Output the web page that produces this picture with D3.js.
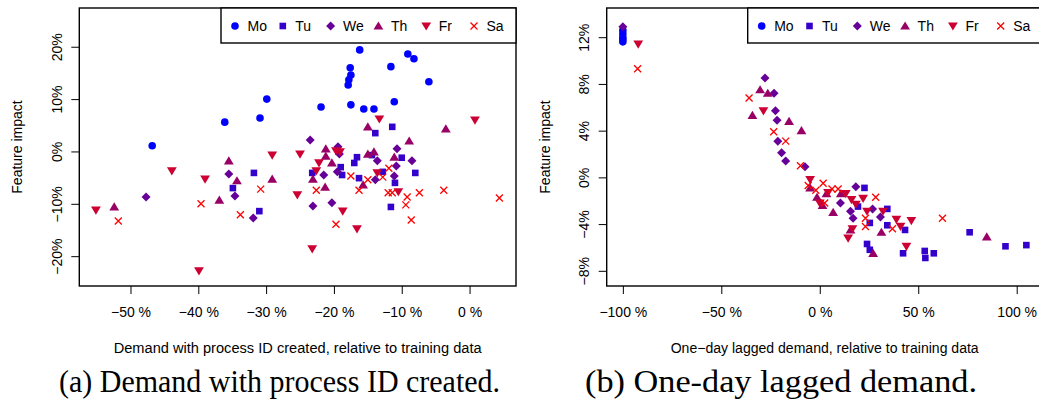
<!DOCTYPE html>
<html>
<head>
<meta charset="utf-8">
<script src="https://cdn.jsdelivr.net/npm/d3@7"></script>
<style>
  body { margin: 0; background: #fff; }
  svg { display: block; }
</style>
</head>
<body>
<svg id="chart"></svg>
<script>
var days = ["Mo", "Tu", "We", "Th", "Fr", "Sa"];
var dayColors = ["#0000ff", "#3300cc", "#660099", "#990066", "#cc0033", "#ff0000"];
var dayShapes = ["circle", "square", "diamond", "up", "down", "cross"];

// panel (a): [demand with process ID created, relative %, feature impact %]
var createdMo = [[-46.8,1.1],[-36.1,5.6],[-30.9,6.4],[-29.9,10.0],[-21.9,8.5],[-17.5,8.9],[-15.6,8.1],[-14.1,8.1],[-11.1,9.5],[-17.9,12.7],[-17.8,13.7],[-17.5,14.6],[-17.6,16.0],[-16.2,19.4],[-11.6,16.2],[-9.1,18.6],[-8.2,17.7],[-6.0,13.3]];
var createdTu = [[-34.9,-7.0],[-31.8,-4.1],[-31.0,-11.4],[-23.2,-4.1],[-19.0,-3.0],[-18.8,-4.5],[-17.0,-2.2],[-16.6,-1.1],[-16.3,-5.1],[-14.4,-0.7],[-13.9,3.5],[-12.8,-3.9],[-11.6,-10.6],[-11.4,4.7],[-11.0,-6.0],[-10.0,-1.2],[-8.0,-4.1]];
var createdWe = [[-47.7,-8.7],[-35.5,-4.3],[-34.6,-8.5],[-31.9,-12.7],[-23.5,2.2],[-23.1,-10.4],[-21.5,-4.5],[-20.3,-9.8],[-19.5,-3.9],[-19.4,0.9],[-19.2,-0.5],[-13.9,-5.4],[-13.6,-1.8],[-11.1,-4.7],[-10.8,-2.8],[-10.7,0.5],[-8.5,-1.8]];
var createdTh = [[-52.4,-10.6],[-36.9,-9.3],[-35.5,-1.8],[-34.3,-5.6],[-29.1,-5.3],[-23.1,-5.3],[-21.3,-6.8],[-21.2,0.5],[-21.2,-0.9],[-20.3,-2.2],[-15.7,-6.4],[-15.0,4.7],[-15.0,-0.5],[-14.1,-0.1],[-11.1,-1.1],[-8.9,2.0],[-3.5,4.3]];
var createdFr = [[-55.1,-11.2],[-43.9,-3.7],[-39.9,-22.8],[-39.0,-5.3],[-29.1,-0.7],[-25.4,-8.3],[-25.0,-0.5],[-23.2,-18.6],[-22.6,-3.7],[-22.2,-2.2],[-19.7,0.1],[-19.1,-0.1],[-18.7,-11.4],[-16.6,-14.8],[-13.6,-4.1],[-13.3,6.2],[-10.5,-7.7],[0.8,6.0]];
var createdSa = [[-51.8,-13.3],[-39.6,-10.0],[-33.8,-12.1],[-30.8,-7.2],[-22.6,-7.4],[-19.7,-13.9],[-17.5,-4.7],[-16.3,-7.4],[-15.0,-5.4],[-12.8,-4.9],[-12.0,-7.9],[-11.9,-3.2],[-11.4,-7.9],[-9.2,-8.7],[-9.4,-10.2],[-8.6,-13.1],[-7.4,-7.9],[-3.8,-7.4],[4.4,-8.9]];

// panel (b): [one-day lagged demand, relative %, feature impact %]
var laggedMo = [[-100,12.6],[-100,12.3],[-100,12.0],[-100,11.8],[-100,11.6]];
var laggedTu = [[22.7,-0.9],[19.4,-2.5],[25.4,-3.9],[34.3,-2.7],[34.3,-4.1],[43.3,-4.5],[24.0,-5.7],[25.4,-6.2],[42.3,-6.5],[53.3,-6.3],[53.6,-6.9],[57.9,-6.5],[76.1,-4.7],[94.3,-5.9],[104.9,-5.8]];
var laggedWe = [[-100,12.9],[-27.8,8.5],[-23.2,7.2],[-22.5,5.7],[-21.7,4.9],[-21.3,3.1],[-19.4,2.1],[-17.3,1.4],[-7.5,0.9],[10.5,-2.2],[18.3,-0.8],[15.6,-2.9],[16.9,-3.5],[26.8,-2.7],[30.8,-3.4]];
var laggedTh = [[-30.3,7.5],[-26.4,7.2],[-34.2,5.3],[-15.6,4.8],[-9.3,4.0],[-4.9,-0.9],[-1.4,-1.7],[3.4,-1.4],[10.7,-1.4],[1.4,-2.4],[6.8,-3.0],[15.6,-4.5],[31.3,-4.7],[27.1,-6.5],[84.8,-5.1]];
var laggedFr = [[-92.2,11.4],[-28.6,5.7],[-4.9,-0.2],[4.2,-1.3],[13.2,-1.4],[0,-2.2],[16.1,-1.9],[18.3,-2.3],[22.0,-1.8],[24.0,-2.9],[16.6,-4.4],[14.4,-5.2],[32.1,-2.9],[38.9,-3.6],[41.0,-4.2],[46.5,-3.7],[44.0,-5.9]];
var laggedSa = [[-92.5,9.3],[-35.9,6.8],[-23.4,3.9],[-17.3,3.1],[-9.8,1.0],[-5.9,-0.7],[1.7,-0.5],[-2.0,-1.1],[2.5,-2.2],[6.2,-1.0],[9.3,-1.0],[28.4,-1.7],[23.2,-3.5],[23.2,-4.2],[36.9,-4.4],[62.3,-3.5]];

var createdTicksX = [-50, -40, -30, -20, -10, 0];
var createdTicksY = [-20, -10, 0, 10, 20];
var laggedTicksX = [-100, -50, 0, 50, 100];
var laggedTicksY = [-8, -4, 0, 4, 8, 12];

var W = 1039, H = 408;
var font = "'Liberation Sans', Arial, Helvetica, sans-serif";

var svg = d3.select("#chart")
    .attr("width", W)
    .attr("height", H)
    .style("background", "#fff");

function minus(v) { return (v < 0 ? "\u2212" : "") + Math.abs(v); }

// R-like plotting symbols
function shapePath(shape) {
    switch (shape) {
        case "circle": return "M3.8,0A3.8,3.8 0 1,1 -3.8,0A3.8,3.8 0 1,1 3.8,0Z";
        case "square": return "M-3.3,-3.3H3.3V3.3H-3.3Z";
        case "diamond": return "M0,-4.5L4.5,0L0,4.5L-4.5,0Z";
        case "up": return "M0,-4.6L4.9,3.6L-4.9,3.6Z";
        case "down": return "M0,4.6L4.9,-3.6L-4.9,-3.6Z";
        case "cross": return "M-3.5,-3.5L3.5,3.5M3.5,-3.5L-3.5,3.5";
    }
}

function drawSymbol(sel, i) {
    var p = sel.append("path").attr("d", shapePath(dayShapes[i]));
    if (dayShapes[i] == "cross") {
        p.attr("fill", "none").attr("stroke", dayColors[i]).attr("stroke-width", 1.3);
    } else {
        p.attr("fill", dayColors[i]);
    }
    return p;
}

function drawPanel(cfg) {
    var x = d3.scaleLinear().domain(cfg.xDomain).range([cfg.left, cfg.left + cfg.width]);
    var y = d3.scaleLinear().domain(cfg.yDomain).range([cfg.bottom, cfg.top]);
    var g = svg.append("g");

    // points, one group per weekday
    cfg.series.forEach(function(data, i) {
        g.append("g")
            .selectAll("g")
            .data(data)
            .enter()
            .append("g")
            .attr("transform", function(d) { return "translate(" + x(d[0]) + "," + y(d[1]) + ")"; })
            .each(function() { drawSymbol(d3.select(this), i); });
    });

    // x axis
    var xAxis = g.append("g")
        .attr("transform", "translate(0," + cfg.bottom + ")")
        .call(d3.axisBottom(x).tickValues(cfg.ticksX).tickSize(8).tickPadding(13)
            .tickFormat(function(d) { return minus(d) + " %"; }));
    xAxis.select(".domain").remove();
    xAxis.selectAll("line").attr("stroke", "#000").attr("stroke-width", 1);
    xAxis.selectAll("text").attr("font-family", font).attr("font-size", 14).attr("fill", "#000");

    // y axis, labels parallel to the axis
    var yAxis = g.append("g")
        .attr("transform", "translate(" + cfg.left + ",0)")
        .call(d3.axisLeft(y).tickValues(cfg.ticksY).tickSize(8)
            .tickFormat(function(d) { return minus(d) + "%"; }));
    yAxis.select(".domain").remove();
    yAxis.selectAll("line").attr("stroke", "#000").attr("stroke-width", 1);
    yAxis.selectAll("text")
        .attr("x", null).attr("dy", null)
        .attr("text-anchor", "middle")
        .attr("transform", "translate(-17.5,0) rotate(-90)")
        .attr("font-family", font).attr("font-size", 14).attr("fill", "#000");

    // box
    g.append("rect")
        .attr("x", cfg.left).attr("y", cfg.top)
        .attr("width", cfg.width).attr("height", cfg.bottom - cfg.top)
        .attr("fill", "none").attr("stroke", "#000").attr("stroke-width", 1.4);

    // axis titles
    g.append("text")
        .attr("x", cfg.left + cfg.width / 2).attr("y", 353)
        .attr("text-anchor", "middle")
        .attr("font-family", font).attr("font-size", 14)
        .attr("textLength", cfg.xTitleWidth).attr("lengthAdjust", "spacingAndGlyphs")
        .text(cfg.xTitle);
    g.append("text")
        .attr("transform", "translate(" + (cfg.left - 57) + "," + ((cfg.top + cfg.bottom) / 2) + ") rotate(-90)")
        .attr("text-anchor", "middle")
        .attr("font-family", font).attr("font-size", 14)
        .text("Feature impact");

    // legend, top right
    var lw = 295, lh = 35;
    var lg = g.append("g").attr("transform", "translate(" + (cfg.left + cfg.width - lw) + "," + cfg.top + ")");
    lg.append("rect")
        .attr("width", lw).attr("height", lh)
        .attr("fill", "#fff").attr("stroke", "#000").attr("stroke-width", 1.4);
    days.forEach(function(day, i) {
        var item = lg.append("g").attr("transform", "translate(" + (14 + i * 47.8) + "," + (lh / 2 + 0.5) + ")");
        drawSymbol(item, i);
        item.append("text")
            .attr("x", 12.5).attr("y", 5)
            .attr("font-family", font).attr("font-size", 14)
            .text(day);
    });

    // caption
    svg.append("text")
        .attr("x", cfg.captionX).attr("y", 392)
        .attr("text-anchor", "middle")
        .attr("font-family", "'Liberation Serif', 'Times New Roman', serif")
        .attr("font-size", 32)
        .attr("textLength", cfg.captionWidth).attr("lengthAdjust", "spacingAndGlyphs")
        .text(cfg.caption);
}

drawPanel({
    left: 79.3, width: 436.7, top: 8, bottom: 286,
    xDomain: [-57.55, 6.85], yDomain: [-25.7, 27.4],
    ticksX: createdTicksX, ticksY: createdTicksY,
    series: [createdMo, createdTu, createdWe, createdTh, createdFr, createdSa],
    xTitle: "Demand with process ID created, relative to training data",
    xTitleWidth: 368,
    caption: "(a) Demand with process ID created.",
    captionX: 279.5, captionWidth: 441
});

drawPanel({
    left: 606.7, width: 436, top: 8, bottom: 286,
    xDomain: [-108.2, 113.2], yDomain: [-9.3, 14.5],
    ticksX: laggedTicksX, ticksY: laggedTicksY,
    series: [laggedMo, laggedTu, laggedWe, laggedTh, laggedFr, laggedSa],
    xTitle: "One\u2212day lagged demand, relative to training data",
    xTitleWidth: 308,
    caption: "(b) One-day lagged demand.",
    captionX: 781, captionWidth: 392
});
</script>
</body>
</html>
